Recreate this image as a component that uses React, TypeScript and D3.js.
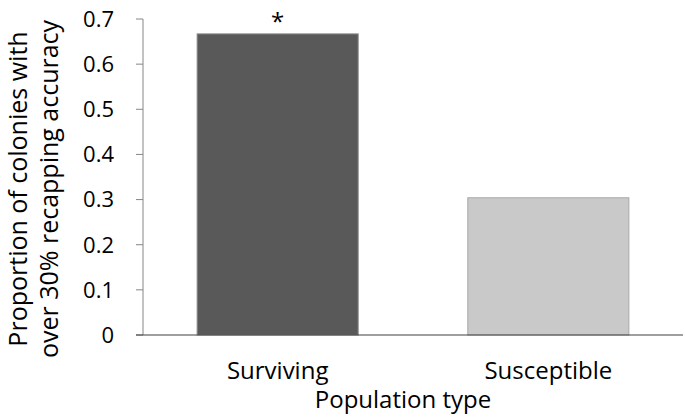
import React from "react";
import * as d3 from "d3";

const categories = ["Surviving", "Susceptible"];
const values = [0.667, 0.304];
const barColors = ["#595959", "#c9c9c9"];
const barStrokes = ["#8a8a8a", "#a8a8a8"];
const annotations = ["*", ""];
const yTicks = [0, 0.1, 0.2, 0.3, 0.4, 0.5, 0.6, 0.7];
const yTitleLines = ["Proportion of colonies with", "over 30% recapping accuracy"];
const xTitle = "Population type";

const W = 685;
const H = 420;
const left = 143;
const right = 683;
const top = 19;
const bottom = 335;
const font = "'Open Sans', 'Liberation Sans', sans-serif";

export default function App() {
  const x = d3.scaleBand<string>().domain(categories).range([left, right]).paddingInner(0.405).paddingOuter(0.2);
  const y = d3.scaleLinear().domain([0, 0.7]).range([bottom, top]);
  return (
    <svg width={W} height={H} style={{ position: "absolute", left: 0, top: 0 }} fontFamily={font}>
      <rect width={W} height={H} fill="#fff" />
      {categories.map((c, i) => (
        <g key={c}>
          <rect
            x={x(c)!}
            y={y(values[i])}
            width={x.bandwidth()}
            height={bottom - y(values[i])}
            fill={barColors[i]}
            stroke={barStrokes[i]}
            strokeWidth={1}
          />
          {annotations[i] && (
            <text x={x(c)! + x.bandwidth() / 2} y={y(values[i]) - 4} textAnchor="middle" fontSize={24} fill="#000">
              {annotations[i]}
            </text>
          )}
          <text x={x(c)! + x.bandwidth() / 2} y={379} textAnchor="middle" fontSize={24} fill="#000">
            {c}
          </text>
        </g>
      ))}
      <line x1={left} x2={left} y1={top} y2={bottom} stroke="#868686" strokeWidth={1} />
      {yTicks.map((t) => (
        <g key={t}>
          <line x1={left - 7} x2={left} y1={y(t)} y2={y(t)} stroke="#868686" strokeWidth={1} />
          <text x={114} y={y(t)} dy="0.36em" textAnchor="end" fontSize={22} fill="#000">
            {t === 0 ? "0" : d3.format(".1f")(t)}
          </text>
        </g>
      ))}
      <line x1={left - 7} x2={right} y1={bottom} y2={bottom} stroke="#404040" strokeWidth={1.2} />
      <text x={403} y={408} textAnchor="middle" fontSize={24} fill="#000">
        {xTitle}
      </text>
      {yTitleLines.map((l, i) => (
        <text
          key={l}
          transform={`translate(${27 + i * 31},${189}) rotate(-90)`}
          textAnchor="middle"
          fontSize={25}
          fill="#000"
        >
          {l}
        </text>
      ))}
    </svg>
  );
}
